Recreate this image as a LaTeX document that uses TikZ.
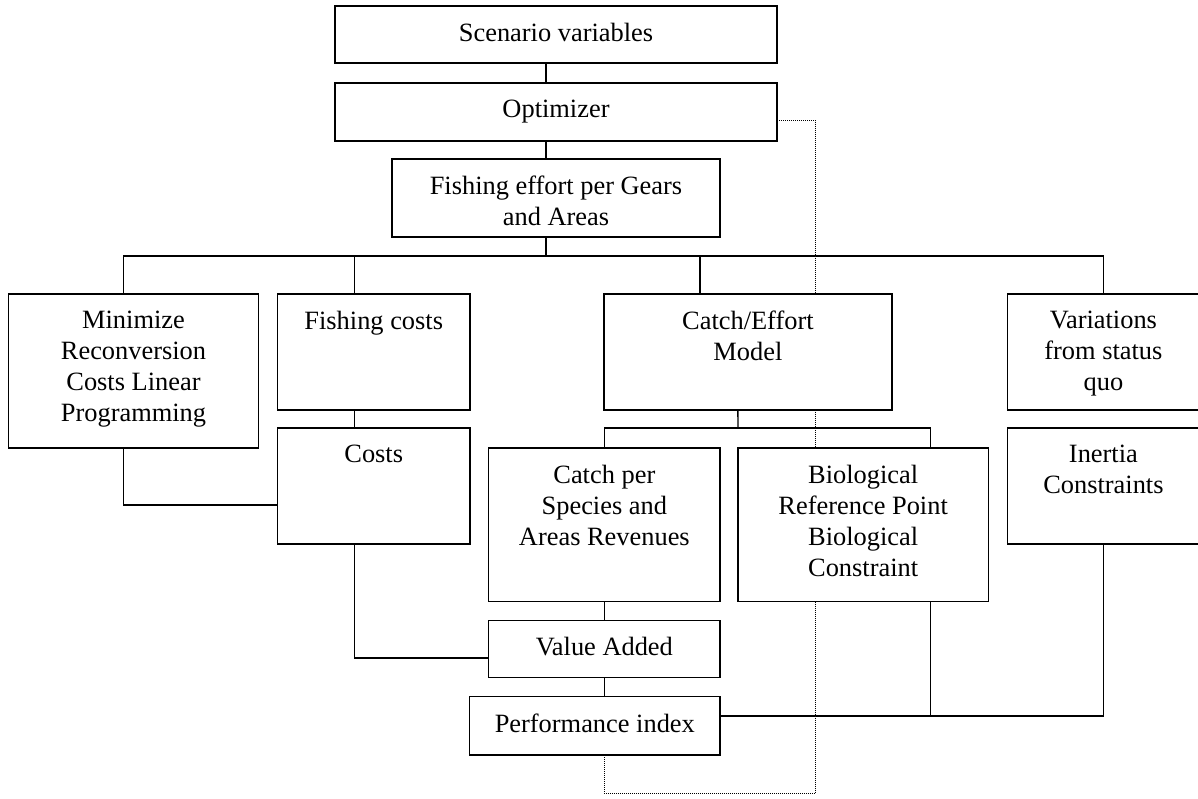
\documentclass[tikz,border=0pt]{standalone}
\usepackage{fontspec}
\setmainfont{Liberation Serif}
\usetikzlibrary{backgrounds}

\begin{document}
\begin{tikzpicture}[x=0.5pt,y=-0.5pt,line width=0.7pt,
	blk/.style={draw,fill=white,inner sep=0,outer sep=0},
	txt/.style={anchor=north,align=center,inner sep=0,yshift=-8.25pt,font=\fontsize{13.2}{15.5}\selectfont},
	dotln/.style={line width=0.5pt,dash pattern=on 0.5pt off 0.5pt}]
	\useasboundingbox (0,0) rectangle (1198,798);
	\node[blk,minimum width=221pt,minimum height=28.5pt,label={[txt]north:Scenario variables}] (sv) at (556,34.5) {};
	\node[blk,minimum width=221pt,minimum height=29pt,label={[txt]north:Optimizer}] (opt) at (556,112) {};
	\node[blk,minimum width=164pt,minimum height=39pt,label={[txt]north:Fishing effort per Gears\\and Areas}] (eff) at (556,198) {};
	\node[blk,minimum width=125.15pt,minimum height=77pt,label={[txt]north:Minimize\\Reconversion\\Costs Linear\\Programming}] (minr) at (133.5,371) {};
	\node[blk,minimum width=96.25pt,minimum height=58pt,label={[txt]north:Fishing costs}] (fcost) at (373.75,352) {};
	\node[blk,minimum width=144.1pt,minimum height=58pt,label={[txt]north:Catch/Effort\\Model}] (cem) at (747.9,352) {};
	\node[blk,minimum width=96.1pt,minimum height=58pt,label={[txt]north:Variations\\from status\\quo}] (var) at (1103.4,352) {};
	\node[blk,minimum width=96.25pt,minimum height=58pt,label={[txt]north:Costs}] (cost) at (373.75,486) {};
	\node[blk,minimum width=115.65pt,minimum height=76.65pt,label={[txt]north:Catch per\\Species and\\Areas Revenues}] (cps) at (604.35,524.65) {};
	\node[blk,minimum width=125.15pt,minimum height=76.65pt,label={[txt]north:Biological\\Reference Point\\Biological\\Constraint}] (bio) at (863.15,524.65) {};
	\node[blk,minimum width=96.1pt,minimum height=58pt,label={[txt]north:Inertia\\Constraints}] (inr) at (1103.4,486) {};
	\node[blk,minimum width=115.65pt,minimum height=28.7pt,label={[txt]north:Value Added}] (va) at (604.35,649) {};
	\node[blk,minimum width=125.2pt,minimum height=29.15pt,label={[txt]north:Performance index}] (pi) at (594.8,725.85) {};
	\coordinate (bus) at (546,256);
	\coordinate (bus2) at (738,428);
	\coordinate (dotc) at (815.5,793);
	\draw ([xshift=-5pt]sv.south) -- ([xshift=-5pt]opt.north);
	\draw ([xshift=-5pt]opt.south) -- ([xshift=-5pt]eff.north);
	\draw ([xshift=-5pt]eff.south) -- (bus);
	\draw ([xshift=-5pt]minr.north) |- (bus) -| (var.north);
	\draw ([xshift=-9.5pt]fcost.north) -- ([xshift=-9.5pt]fcost.north |- bus);
	\draw ([xshift=-24pt]cem.north) -- ([xshift=-24pt]cem.north |- bus);
	\draw ([xshift=-9.5pt]fcost.south) -- ([xshift=-9.5pt]cost.north);
	\draw ([xshift=-5pt]minr.south) |- ([yshift=-9.5pt]cost.west);
	\draw ([xshift=-5pt]cem.south) -- (bus2);
	\draw (cps.north) |- (bus2) -| ([xshift=33.8pt]bio.north);
	\draw (cps.south) -- (va.north);
	\draw (va.south) -- (va.south |- pi.north);
	\draw ([xshift=-9.5pt]cost.south) |- ([yshift=-4.5pt]va.west);
	\draw ([yshift=5pt]pi.east) -| (inr.south);
	\draw ([xshift=33.8pt]bio.south) |- ([yshift=5pt]pi.east);
	\begin{scope}[on background layer]
		\draw[dotln] ([yshift=-4pt]opt.east) -| (dotc) -| (va.south |- pi.south);
	\end{scope}
\end{tikzpicture}
\end{document}
